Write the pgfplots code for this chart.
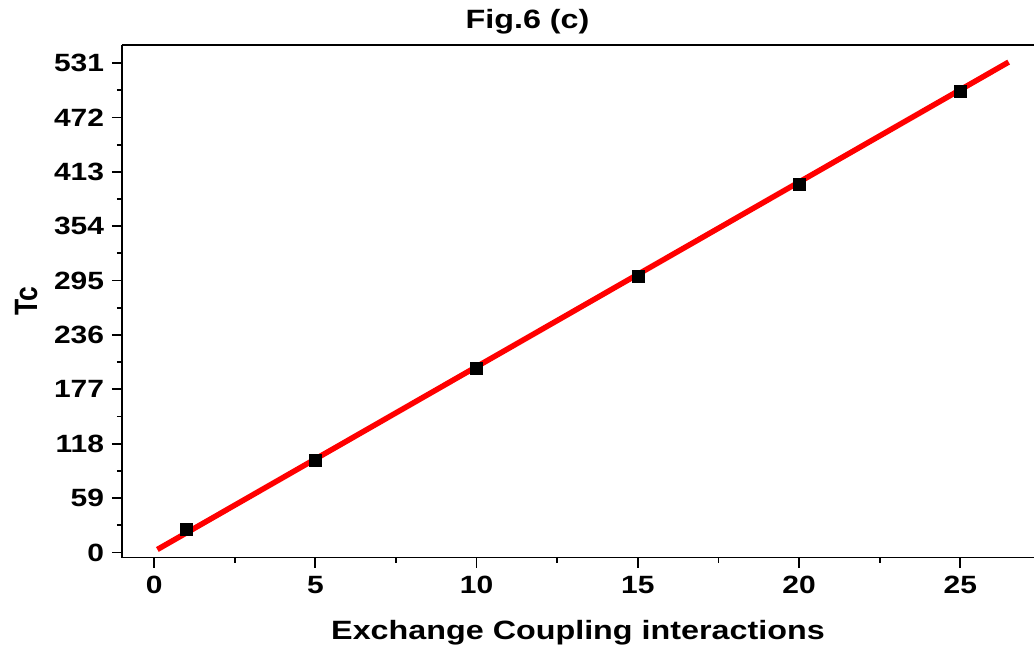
\documentclass[border=0pt]{standalone}
\usepackage{fontspec}
\setmainfont{Liberation Sans}
\usepackage{pgfplots}
\pgfplotsset{compat=1.18}

\begin{document}
\begin{tikzpicture}
\begin{axis}[
  at={(0,0)}, anchor=south west,
  scale only axis,
  width=913pt, height=513pt,
  xmin=-1, xmax=27.29,
  ymin=-5.4, ymax=550.6,
  axis x line=box, axis y line=left,
  axis line style={line width=1.8pt, -},
  xtick pos=bottom, ytick pos=left,
  xtick={0,5,10,15,20,25},
  ytick={0,59,118,177,236,295,354,413,472,531},
  minor x tick num=1, minor y tick num=1,
  tick align=outside,
  major tick length=10pt, minor tick length=5pt,
  every tick/.style={black, line width=1.8pt},
  /pgf/number format/assume math mode=true,
  tick label style={font=\bfseries\fontsize{25}{25}\selectfont, xscale=1.2},
  xticklabel style={yshift=-5pt},
  yticklabel style={xshift=-3pt},
  xlabel={Exchange Coupling interactions},
  ylabel={Tc},
  xlabel style={font=\bfseries\fontsize{26.5}{26.5}\selectfont, xscale=1.22,
    at={(axis description cs:0.5,0)}, anchor=center, yshift=-75pt},
  ylabel style={font=\bfseries\fontsize{26.5}{26.5}\selectfont, yscale=1.22,
    at={(axis description cs:-0.105,0.5)}, anchor=center},
  clip=false,
]
% measured Curie temperatures
\addplot[only marks, mark=square*, mark size=6pt, black] coordinates {
  (1,25) (5,100) (10,200) (15,300) (20,400) (25,500)
};
% linear fit
\addplot[red, line width=5.5pt, no marks] coordinates {
  (0.1,3.3) (26.5,532)
};
\end{axis}
\node[font=\bfseries\fontsize{26.5}{26.5}\selectfont, xscale=1.22] at (406pt,536pt) {Fig.6 (c)};
\path[use as bounding box] (-122pt,-97pt) rectangle (913pt,558pt);
\end{tikzpicture}
\end{document}
